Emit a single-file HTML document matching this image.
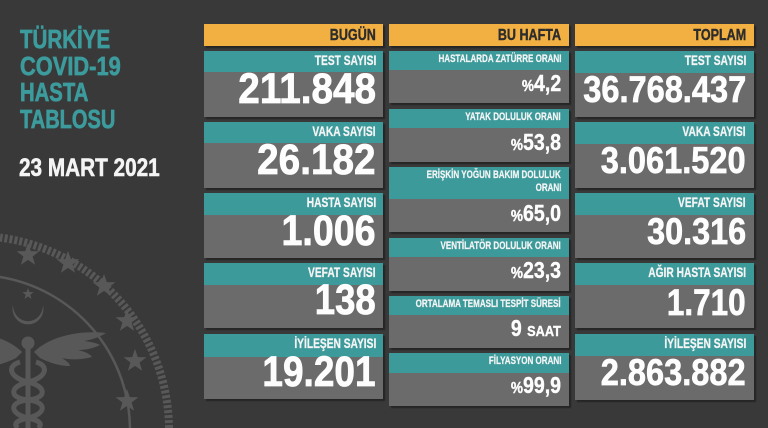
<!DOCTYPE html>
<html><head><meta charset="utf-8">
<style>
*{margin:0;padding:0;box-sizing:border-box}
html,body{width:768px;height:428px;overflow:hidden;background:#393939}
#c{position:relative;width:768px;height:428px;background:#393939;overflow:hidden}
.r{position:absolute}
.y{background:#f1b041}
.tl{background:#3c9a9b}
.g{background:#6b6b6b}
.card{position:absolute;box-shadow:2px 2px 1px rgba(0,0,0,0.35)}
.t{position:absolute;white-space:nowrap;font-family:"Liberation Sans",sans-serif;font-weight:bold;line-height:1;transform-origin:right center}
.tL{transform-origin:left center}
.ttl{font-size:26px;color:#3c9b9d;-webkit-text-stroke:0.7px #3c9b9d}
.lbl{font-size:14px;transform:scaleX(0.73);color:#f4f4f4;-webkit-text-stroke:0.3px #f4f4f4}
.lbs{font-size:11px;transform:scaleX(0.73);color:#f4f4f4;-webkit-text-stroke:0.25px #f4f4f4}
.hd{font-size:15.5px;color:#2d2d2d;transform:scaleX(0.81);-webkit-text-stroke:0.4px #2d2d2d}
.n1{font-size:43px;color:#fdfdfd;-webkit-text-stroke:0.8px #fdfdfd}
.n3{font-size:37px;color:#fdfdfd;-webkit-text-stroke:0.7px #fdfdfd}
.v2{font-size:23px;color:#fdfdfd;transform:scaleX(0.85);-webkit-text-stroke:0.4px #fdfdfd}
.v2 .p{font-size:16px}
</style></head><body><div id="c">

<svg class="r" style="left:0;top:0" width="200" height="428" viewBox="0 0 200 428">
 <g fill="#585858" stroke="none">
  <path d="M169,428 A194,194 0 0 0 0,237.6" fill="none" stroke="#585858" stroke-width="8" stroke-dasharray="3 2"/>
  <path d="M130,428 A155,155 0 0 0 0,277" fill="none" stroke="#585858" stroke-width="2.5"/>
  <polygon points="0,-12 2.8,-3.9 11.4,-3.7 4.6,1.5 7.1,9.8 0,4.9 -7.1,9.8 -4.6,1.5 -11.4,-3.7 -2.8,-3.9" transform="translate(28,255)"/>
  <polygon points="0,-12 2.8,-3.9 11.4,-3.7 4.6,1.5 7.1,9.8 0,4.9 -7.1,9.8 -4.6,1.5 -11.4,-3.7 -2.8,-3.9" transform="translate(68,263)"/>
  <polygon points="0,-12 2.8,-3.9 11.4,-3.7 4.6,1.5 7.1,9.8 0,4.9 -7.1,9.8 -4.6,1.5 -11.4,-3.7 -2.8,-3.9" transform="translate(104,286)"/>
  <polygon points="0,-12 2.8,-3.9 11.4,-3.7 4.6,1.5 7.1,9.8 0,4.9 -7.1,9.8 -4.6,1.5 -11.4,-3.7 -2.8,-3.9" transform="translate(127,321)"/>
  <polygon points="0,-12 2.8,-3.9 11.4,-3.7 4.6,1.5 7.1,9.8 0,4.9 -7.1,9.8 -4.6,1.5 -11.4,-3.7 -2.8,-3.9" transform="translate(135,361)"/>
  <polygon points="0,-12 2.8,-3.9 11.4,-3.7 4.6,1.5 7.1,9.8 0,4.9 -7.1,9.8 -4.6,1.5 -11.4,-3.7 -2.8,-3.9" transform="translate(127,401)"/>
  <polygon points="0,-6 1.4,-2 5.7,-1.9 2.3,0.8 3.5,4.9 0,2.5 -3.5,4.9 -2.3,0.8 -5.7,-1.9 -1.4,-2" transform="translate(28,294)"/>
  <path d="M13,305 A15.5,15.5 0 1 0 43,305 A12,13 0 1 1 13,305 Z"/>
  <circle cx="28" cy="343" r="6.5"/>
  <rect x="25.5" y="345" width="5" height="83"/>
  <path d="M34,352 C50,336 80,330 106,333 C98,338 90,340 84,341 C92,342 96,343 100,345 C92,349 84,350 78,350 C86,352 90,354 92,357 C80,360 70,360 62,358 C68,362 70,364 70,366 C58,366 48,362 40,358 Z"/>
  <path d="M22,352 C6,336 -24,330 -50,333 C-42,338 -34,340 -28,341 C-36,342 -40,343 -44,345 C-36,349 -28,350 -22,350 C-30,352 -34,354 -36,357 C-24,360 -14,360 -6,358 C-12,362 -14,364 -14,366 C-2,366 8,362 16,358 Z"/>
  <path d="M36,362 C50,366 46,378 28,382 C10,386 8,398 28,400 C48,402 46,414 28,418 C14,421 14,425 18,428" fill="none" stroke="#585858" stroke-width="5"/>
  <path d="M20,362 C6,366 10,378 28,382 C46,386 48,398 28,400 C8,402 10,414 28,418 C42,421 42,425 38,428" fill="none" stroke="#585858" stroke-width="5"/>
 </g>
</svg>

<div class="t tL ttl" style="left:20px;top:26px;transform:scaleX(0.79)">TÜRKİYE</div>
<div class="t tL ttl" style="left:20px;top:53px;transform:scaleX(0.84)">COVID-19</div>
<div class="t tL ttl" style="left:20px;top:79px;transform:scaleX(0.78)">HASTA</div>
<div class="t tL ttl" style="left:20px;top:106px;transform:scaleX(0.77)">TABLOSU</div>
<div class="t tL" style="left:19px;top:156px;font-size:25px;color:#f4f4f4;-webkit-text-stroke:0.6px #f4f4f4;transform:scaleX(0.83)">23 MART 2021</div>

<!-- headers -->
<div class="card y" style="left:204px;top:24px;width:179px;height:22px"></div>
<div class="card y" style="left:389px;top:24px;width:180px;height:22px"></div>
<div class="card y" style="left:575px;top:24px;width:179px;height:22px"></div>
<div class="t hd" style="right:392px;top:28px">BUGÜN</div>
<div class="t hd" style="right:207px;top:28px">BU HAFTA</div>
<div class="t hd" style="right:22px;top:28px">TOPLAM</div>

<!-- col1 -->
<div class="card g" style="left:204px;top:51px;width:179px;height:66px"></div>
<div class="r tl" style="left:204px;top:51px;width:179px;height:21px"></div>
<div class="card g" style="left:204px;top:122px;width:179px;height:66px"></div>
<div class="r tl" style="left:204px;top:122px;width:179px;height:21px"></div>
<div class="card g" style="left:204px;top:193px;width:179px;height:65px"></div>
<div class="r tl" style="left:204px;top:193px;width:179px;height:22px"></div>
<div class="card g" style="left:204px;top:263px;width:179px;height:65px"></div>
<div class="r tl" style="left:204px;top:263px;width:179px;height:22px"></div>
<div class="card g" style="left:204px;top:334px;width:179px;height:65px"></div>
<div class="r tl" style="left:204px;top:334px;width:179px;height:23px"></div>

<div class="t lbl" style="right:392px;top:53px">TEST SAYISI</div>
<div class="t n1" style="right:392px;top:67.6px;transform:scaleX(0.9)">211.848</div>
<div class="t lbl" style="right:392px;top:124px">VAKA SAYISI</div>
<div class="t n1" style="right:392px;top:139px;transform:scaleX(0.9)">26.182</div>
<div class="t lbl" style="right:392px;top:195px">HASTA SAYISI</div>
<div class="t n1" style="right:392px;top:209.6px;transform:scaleX(0.875)">1.006</div>
<div class="t lbl" style="right:392px;top:265px">VEFAT SAYISI</div>
<div class="t n1" style="right:392px;top:279px;transform:scaleX(0.85)">138</div>
<div class="t lbl" style="right:392px;top:336px">İYİLEŞEN SAYISI</div>
<div class="t n1" style="right:392px;top:350.6px;transform:scaleX(0.86)">19.201</div>

<!-- col2 -->
<div class="card g" style="left:389px;top:51px;width:180px;height:52px"></div>
<div class="r tl" style="left:389px;top:51px;width:180px;height:19px"></div>
<div class="card g" style="left:389px;top:109px;width:180px;height:53px"></div>
<div class="r tl" style="left:389px;top:109px;width:180px;height:19px"></div>
<div class="card g" style="left:389px;top:167px;width:180px;height:65px"></div>
<div class="r tl" style="left:389px;top:167px;width:180px;height:32px"></div>
<div class="card g" style="left:389px;top:238px;width:180px;height:53px"></div>
<div class="r tl" style="left:389px;top:238px;width:180px;height:19px"></div>
<div class="card g" style="left:389px;top:296px;width:180px;height:52px"></div>
<div class="r tl" style="left:389px;top:296px;width:180px;height:19px"></div>
<div class="card g" style="left:389px;top:353px;width:180px;height:53px"></div>
<div class="r tl" style="left:389px;top:353px;width:180px;height:20px"></div>

<div class="t lbs" style="right:207px;top:53.7px">HASTALARDA ZATÜRRE ORANI</div>
<div class="t v2" style="right:207px;top:71.5px"><span class="p">%</span>4,2</div>
<div class="t lbs" style="right:207px;top:111.7px">YATAK DOLULUK ORANI</div>
<div class="t v2" style="right:207px;top:130.5px"><span class="p">%</span>53,8</div>
<div class="t lbs" style="right:207px;top:169.7px">ERİŞKİN YOĞUN BAKIM DOLULUK</div>
<div class="t lbs" style="right:207px;top:182.7px">ORANI</div>
<div class="t v2" style="right:207px;top:201.5px"><span class="p">%</span>65,0</div>
<div class="t lbs" style="right:207px;top:240.7px">VENTİLATÖR DOLULUK ORANI</div>
<div class="t v2" style="right:207px;top:258.5px"><span class="p">%</span>23,3</div>
<div class="t lbs" style="right:207px;top:298.7px">ORTALAMA TEMASLI TESPİT SÜRESİ</div>
<div class="t v2" style="right:207px;top:316.5px">9 <span style="font-size:15px">SAAT</span></div>
<div class="t lbs" style="right:207px;top:355.7px">FİLYASYON ORANI</div>
<div class="t v2" style="right:207px;top:373.5px"><span class="p">%</span>99,9</div>

<!-- col3 -->
<div class="card g" style="left:575px;top:51px;width:179px;height:66px"></div>
<div class="r tl" style="left:575px;top:51px;width:179px;height:22px"></div>
<div class="card g" style="left:575px;top:122px;width:179px;height:66px"></div>
<div class="r tl" style="left:575px;top:122px;width:179px;height:22px"></div>
<div class="card g" style="left:575px;top:193px;width:179px;height:65px"></div>
<div class="r tl" style="left:575px;top:193px;width:179px;height:22px"></div>
<div class="card g" style="left:575px;top:263px;width:179px;height:65px"></div>
<div class="r tl" style="left:575px;top:263px;width:179px;height:22px"></div>
<div class="card g" style="left:575px;top:334px;width:179px;height:66px"></div>
<div class="r tl" style="left:575px;top:334px;width:179px;height:22px"></div>

<div class="t lbl" style="right:22px;top:53px">TEST SAYISI</div>
<div class="t n3" style="right:22px;top:70.7px;transform:scaleX(0.88)">36.768.437</div>
<div class="t lbl" style="right:22px;top:124px">VAKA SAYISI</div>
<div class="t n3" style="right:22px;top:141.7px;transform:scaleX(0.88)">3.061.520</div>
<div class="t lbl" style="right:22px;top:195px">VEFAT SAYISI</div>
<div class="t n3" style="right:22px;top:212.7px;transform:scaleX(0.875)">30.316</div>
<div class="t lbl" style="right:22px;top:265px">AĞIR HASTA SAYISI</div>
<div class="t n3" style="right:22px;top:283.7px;transform:scaleX(0.85)">1.710</div>
<div class="t lbl" style="right:22px;top:336px">İYİLEŞEN SAYISI</div>
<div class="t n3" style="right:22px;top:353.7px;transform:scaleX(0.88)">2.863.882</div>

</div></body></html>
